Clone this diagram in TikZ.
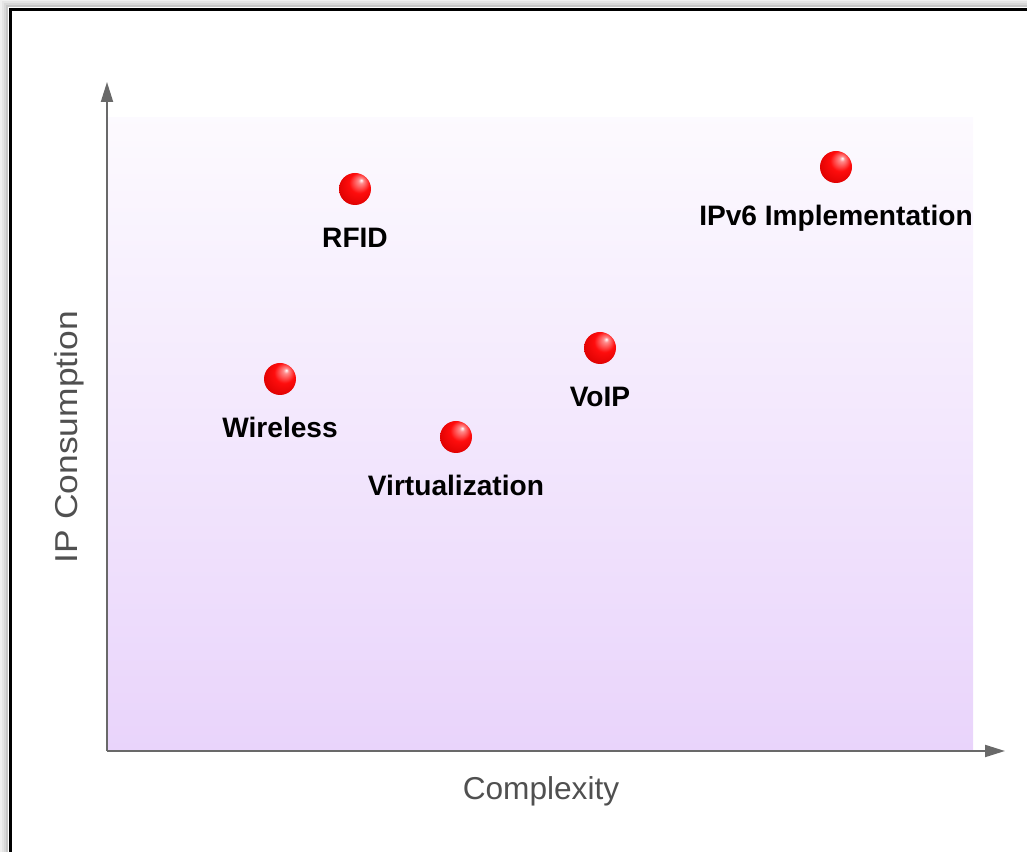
\documentclass[tikz,border=0pt]{standalone}
\usepackage{fontspec}
\setmainfont{Liberation Sans}
\usetikzlibrary{arrows.meta,positioning}
\definecolor{lavender}{RGB}{233,212,251}
\definecolor{axisgray}{RGB}{105,105,105}
\definecolor{labelgray}{RGB}{80,80,80}
\pgfdeclareradialshading{redball}{\pgfpoint{10bp}{14bp}}{%
  color(0bp)=(white); color(4bp)=(red!45!white); color(16bp)=(red!95!white);
  color(34bp)=(red!85!black); color(50bp)=(red!55!black)}

\begin{document}
\begin{tikzpicture}[
  ball/.style={circle,minimum size=0.8cm,inner sep=0pt,shading=redball},
  tag/.style={font=\fontsize{20}{24}\selectfont\bfseries,inner sep=0pt},
  axislabel/.style={font=\fontsize{22.5}{27}\selectfont,text=labelgray,inner sep=0pt},
  axis/.style={axisgray,line width=0.05cm,-{Triangle[length=0.5cm,width=0.3cm]}}]

\useasboundingbox (-2.675,-2.525) rectangle (23,18.775);

% Frame and its shadow
\foreach \d/\o in {0.25/0.06,0.2/0.1,0.15/0.15,0.1/0.22}
  \draw[line width=0.05cm,opacity=\o] (-2.4-\d,-3) -- (-2.4-\d,18.525+\d) -- (23.5,18.525+\d);
\draw[line width=0.075cm] (-2.4,-3) -- (-2.4,18.525) -- (23.5,18.525);

% Shaded plot area
\shade[top color=lavender!12,bottom color=lavender] (0,0) rectangle (21.65,15.825);

% Axes
\coordinate (o) at (0,0);
\coordinate (xend) at (22.45,0);
\coordinate (yend) at (0,16.725);
\draw[axis] (o) -- (xend);
\draw[axis] (o) -- (yend);
\node[axislabel] (xlab) at (10.85,-1.02) {Complexity};
\node[axislabel,rotate=90,xscale=1.12] (ylab) at (-0.95,7.85) {IP Consumption};

% Points
\node[ball] (rfid) at (6.2,14.05) {};
\node[ball] (ipv6) at (18.225,14.6) {};
\node[ball] (voip) at (12.325,10.075) {};
\node[ball] (wireless) at (4.325,9.3) {};
\node[ball] (virt) at (8.725,7.85) {};

\node[tag,below=1.47cm of rfid.center,anchor=base] (rfidlab) {RFID};
\node[tag,below=1.47cm of ipv6.center,anchor=base] (ipv6lab) {IPv6 Implementation};
\node[tag,below=1.47cm of voip.center,anchor=base] (voiplab) {VoIP};
\node[tag,below=1.47cm of wireless.center,anchor=base] (wirelesslab) {Wireless};
\node[tag,below=1.47cm of virt.center,anchor=base] (virtlab) {Virtualization};

\end{tikzpicture}
\end{document}
